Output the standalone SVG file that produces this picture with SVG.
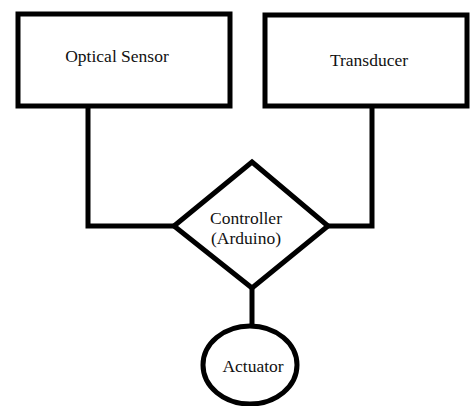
<svg xmlns="http://www.w3.org/2000/svg" width="470" height="406" viewBox="0 0 470 406">
<style>
.n{fill:#fff;stroke:#000;stroke-width:5}
.c{fill:none;stroke:#000;stroke-width:5}
.t{font-family:'Liberation Serif','Times New Roman',serif;font-size:17.5px;fill:#111;text-anchor:middle}
</style>
<rect width="470" height="406" fill="#fff"/>
<g id="connectors">
<polyline class="c" points="88,106 88,226 174,226"/>
<polyline class="c" points="372,106 372,226 328,226"/>
<line class="c" x1="252" y1="288" x2="252" y2="326"/>
</g>
<g id="optical-sensor">
<rect class="n" x="18" y="14" width="212" height="92"/>
<text class="t" x="117" y="62">Optical Sensor</text>
</g>
<g id="transducer">
<rect class="n" x="265" y="15" width="202" height="91"/>
<text class="t" x="369" y="66">Transducer</text>
</g>
<g id="controller">
<polygon class="n" points="252,162 328,226 252,288 174,226"/>
<text class="t" x="246" y="224">Controller</text>
<text class="t" x="246" y="243.5">(Arduino)</text>
</g>
<g id="actuator">
<ellipse class="n" cx="250" cy="365" rx="47" ry="39"/>
<text class="t" x="253" y="372">Actuator</text>
</g>
</svg>
